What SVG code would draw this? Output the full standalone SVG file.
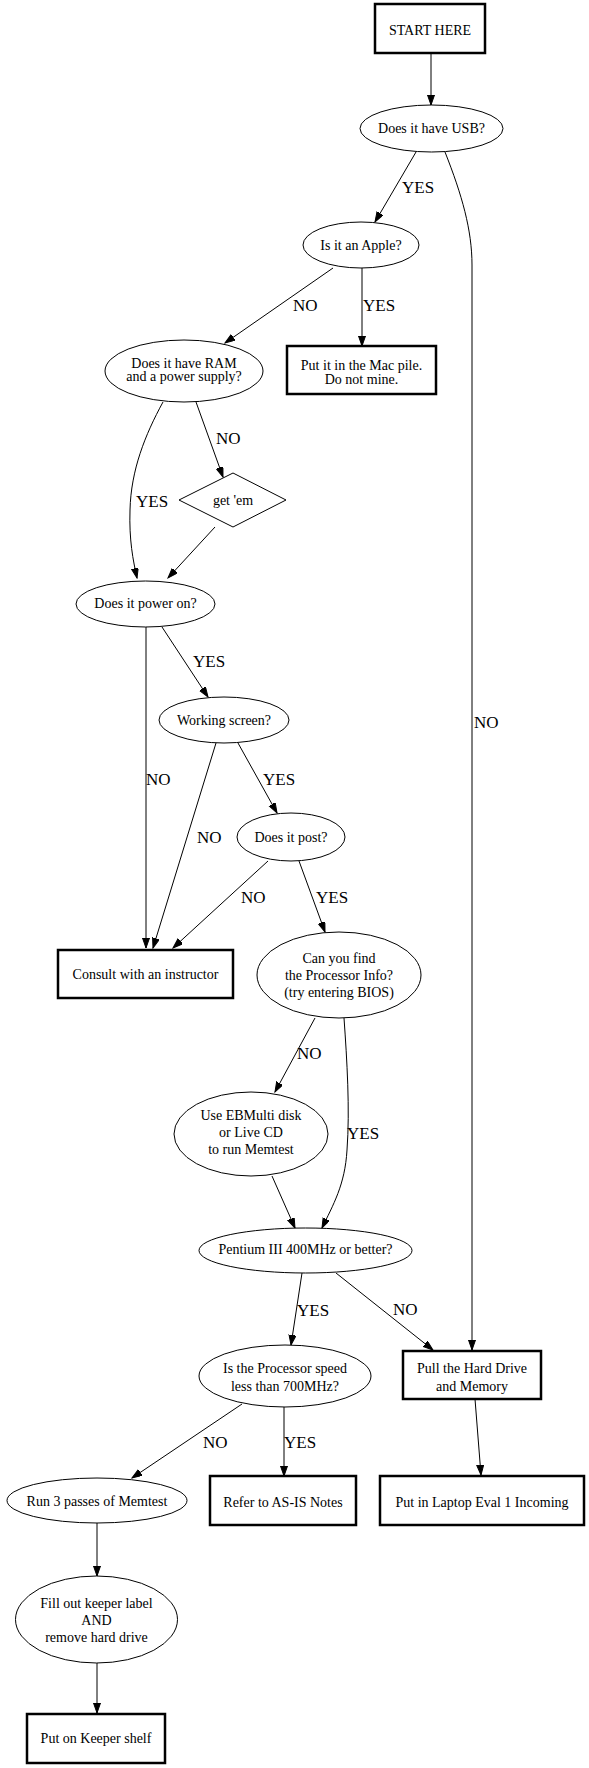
<svg xmlns="http://www.w3.org/2000/svg" width="589" height="1768" viewBox="0 0 589 1768" font-family="'Liberation Serif', 'Times New Roman', 'DejaVu Serif', serif">
<style>
text{font-family:'Liberation Serif','Times New Roman','DejaVu Serif',serif;fill:#000}
.n{font-size:14px;text-anchor:middle}
.l{font-size:17px}
.box{fill:#fff;stroke:#000;stroke-width:2.5}
.el{fill:#fff;stroke:#000;stroke-width:1}
.e{fill:none;stroke:#000;stroke-width:1;marker-end:url(#ah)}
</style>
<defs>
<marker id="ah" markerUnits="userSpaceOnUse" markerWidth="11" markerHeight="8" refX="10" refY="3.5" orient="auto">
<path d="M0,0 L10,3.5 L0,7 Z" fill="#000" stroke="#000" stroke-width="1"/>
</marker>
</defs>
<rect width="589" height="1768" fill="#fff"/>
<g id="edges">
<path class="e" d="M431,53 L431,105"/>
<path class="e" d="M416,152 L375,222"/>
<path class="e" d="M445,152 C462,195 472,230 472,265 L472,1350"/>
<path class="e" d="M333,268 L225,343"/>
<path class="e" d="M362,268 L362,346"/>
<path class="e" d="M196,402 L223,477"/>
<path class="e" d="M163,402 C145,435 131,470 130,510 C129,540 133,560 137,578"/>
<path class="e" d="M215,527 L168,578"/>
<path class="e" d="M146,627 L146,948"/>
<path class="e" d="M162,627 L208,697"/>
<path class="e" d="M216,743 L153,948"/>
<path class="e" d="M238,743 L277,813"/>
<path class="e" d="M268,861 L173,948"/>
<path class="e" d="M299,861 L325,932"/>
<path class="e" d="M315,1018 L275,1092"/>
<path class="e" d="M344,1018 C347,1060 350,1110 347,1150 C345,1185 333,1205 322,1228"/>
<path class="e" d="M272,1176 L295,1228"/>
<path class="e" d="M302,1273 L291,1345"/>
<path class="e" d="M336,1273 L433,1350"/>
<path class="e" d="M284,1407 L284,1476"/>
<path class="e" d="M242,1404 L132,1478"/>
<path class="e" d="M475,1399 L481,1475"/>
<path class="e" d="M97,1523 L97,1576"/>
<path class="e" d="M97,1663 L97,1713"/>
<text class="l" x="402" y="193">YES</text>
<text class="l" x="474" y="728">NO</text>
<text class="l" x="293" y="311">NO</text>
<text class="l" x="363" y="311">YES</text>
<text class="l" x="216" y="444">NO</text>
<text class="l" x="136" y="507">YES</text>
<text class="l" x="193" y="667">YES</text>
<text class="l" x="146" y="785">NO</text>
<text class="l" x="263" y="785">YES</text>
<text class="l" x="197" y="843">NO</text>
<text class="l" x="241" y="903">NO</text>
<text class="l" x="316" y="903">YES</text>
<text class="l" x="297" y="1059">NO</text>
<text class="l" x="347" y="1139">YES</text>
<text class="l" x="297" y="1316">YES</text>
<text class="l" x="393" y="1315">NO</text>
<text class="l" x="203" y="1448">NO</text>
<text class="l" x="284" y="1448">YES</text>
</g>
<g id="start"><rect class="box" x="375" y="4" width="110" height="49"/><text class="n" x="430" y="35">START HERE</text></g>
<g id="usb"><ellipse class="el" cx="431.5" cy="128.5" rx="71.5" ry="23.5"/><text class="n" x="431.5" y="133">Does it have USB?</text></g>
<g id="apple"><ellipse class="el" cx="361" cy="245" rx="58" ry="23"/><text class="n" x="361" y="250">Is it an Apple?</text></g>
<g id="mac"><rect class="box" x="287" y="346" width="149" height="48"/><text class="n" x="361.5" y="370">Put it in the Mac pile.</text><text class="n" x="361.5" y="384">Do not mine.</text></g>
<g id="ram"><ellipse class="el" cx="184" cy="371" rx="79" ry="31"/><text class="n" x="184" y="368">Does it have RAM</text><text class="n" x="184" y="381">and a power supply?</text></g>
<g id="getem"><polygon class="el" points="179,500 233,473 286,500 233,527"/><text class="n" x="233" y="505">get 'em</text></g>
<g id="power"><ellipse class="el" cx="145.5" cy="604" rx="69.5" ry="23"/><text class="n" x="145.5" y="608">Does it power on?</text></g>
<g id="screen"><ellipse class="el" cx="224" cy="720" rx="65" ry="23"/><text class="n" x="224" y="725">Working screen?</text></g>
<g id="post"><ellipse class="el" cx="291" cy="837" rx="54" ry="24"/><text class="n" x="291" y="842">Does it post?</text></g>
<g id="consult"><rect class="box" x="58" y="950" width="175" height="48"/><text class="n" x="145.5" y="979">Consult with an instructor</text></g>
<g id="proc"><ellipse class="el" cx="339" cy="975" rx="82" ry="43"/><text class="n" x="339" y="963">Can you find</text><text class="n" x="339" y="980">the Processor Info?</text><text class="n" x="339" y="997">(try entering BIOS)</text></g>
<g id="ebmulti"><ellipse class="el" cx="251" cy="1134" rx="77" ry="42"/><text class="n" x="251" y="1120">Use EBMulti disk</text><text class="n" x="251" y="1137">or Live CD</text><text class="n" x="251" y="1154">to run Memtest</text></g>
<g id="pentium"><ellipse class="el" cx="305.5" cy="1250.5" rx="106.5" ry="22.5"/><text class="n" x="305.5" y="1254">Pentium III 400MHz or better?</text></g>
<g id="speed"><ellipse class="el" cx="285" cy="1376" rx="86" ry="31"/><text class="n" x="285" y="1373">Is the Processor speed</text><text class="n" x="285" y="1391">less than 700MHz?</text></g>
<g id="pull"><rect class="box" x="403" y="1351" width="138" height="48"/><text class="n" x="472" y="1373">Pull the Hard Drive</text><text class="n" x="472" y="1391">and Memory</text></g>
<g id="refer"><rect class="box" x="210" y="1476" width="146" height="49"/><text class="n" x="283" y="1507">Refer to AS-IS Notes</text></g>
<g id="laptop"><rect class="box" x="380" y="1476" width="204" height="49"/><text class="n" x="482" y="1507">Put in Laptop Eval 1 Incoming</text></g>
<g id="run3"><ellipse class="el" cx="97" cy="1500.5" rx="90" ry="22.5"/><text class="n" x="97" y="1506">Run 3 passes of Memtest</text></g>
<g id="fill"><ellipse class="el" cx="96.5" cy="1619.5" rx="81" ry="43.5"/><text class="n" x="96.5" y="1608">Fill out keeper label</text><text class="n" x="96.5" y="1625">AND</text><text class="n" x="96.5" y="1642">remove hard drive</text></g>
<g id="keeper"><rect class="box" x="27" y="1714" width="138" height="49"/><text class="n" x="96" y="1743">Put on Keeper shelf</text></g>
</svg>
